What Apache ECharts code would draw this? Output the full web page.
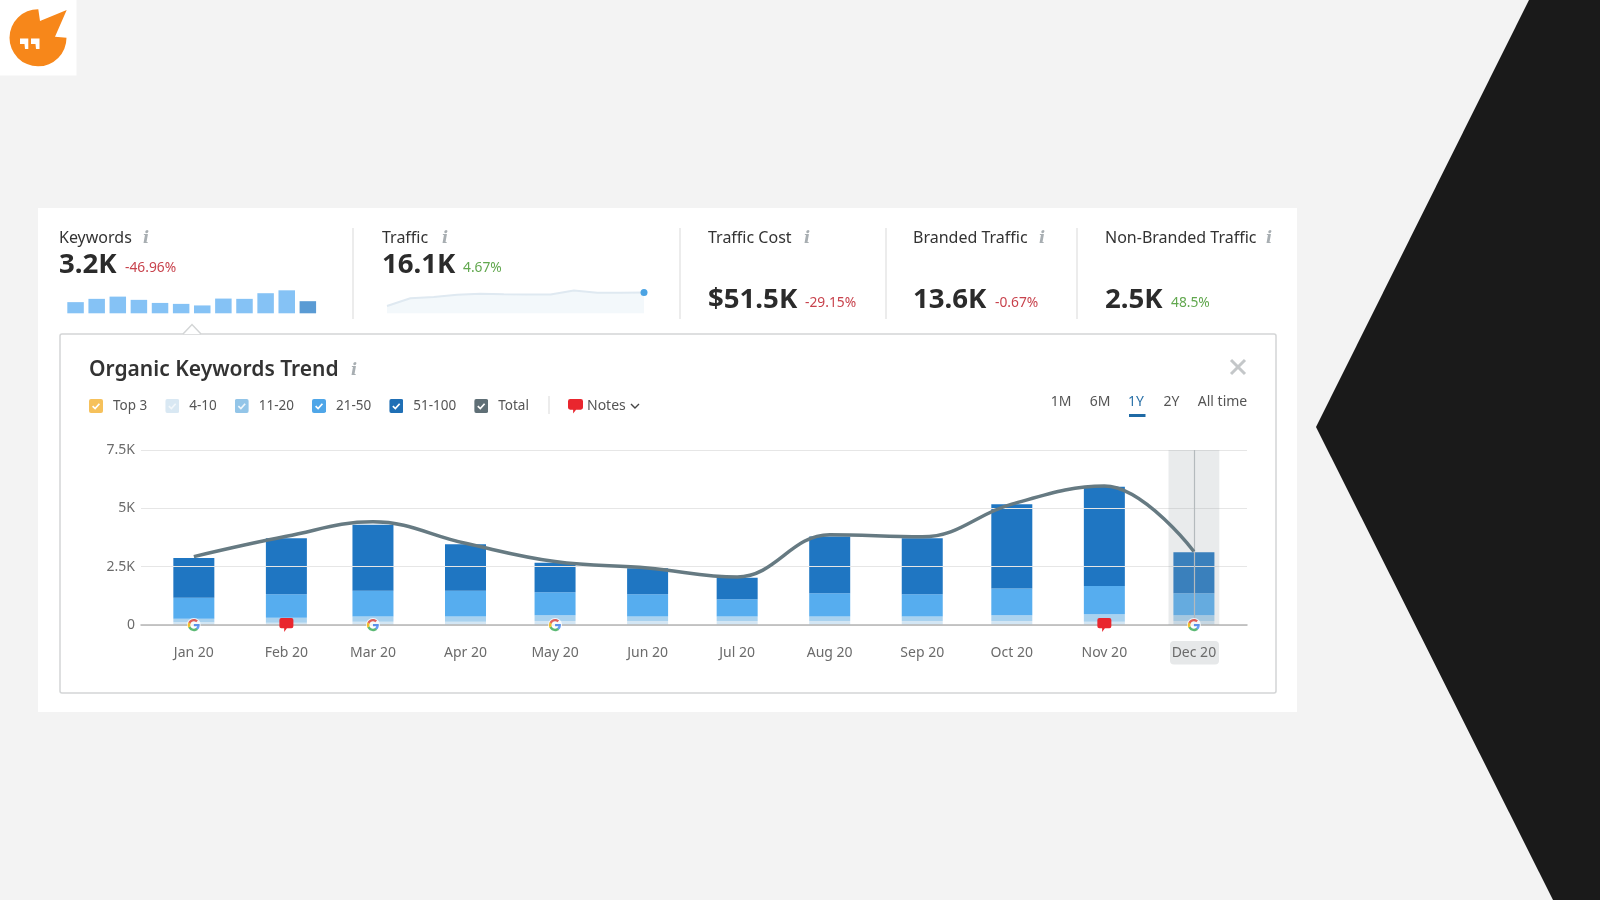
<!DOCTYPE html>
<html><head><meta charset="utf-8">
<style>html,body{margin:0;padding:0;background:#f3f3f3}#c{width:1600px;height:900px}</style>
<script src="https://cdn.jsdelivr.net/npm/echarts@6/dist/echarts.min.js"></script>
</head><body><div id="c"></div>
<script>
const months=['2020-01-01','2020-02-01','2020-03-01','2020-04-01','2020-05-01','2020-06-01','2020-07-01','2020-08-01','2020-09-01','2020-10-01','2020-11-01','2020-12-01'];
const monthLabels=['Jan 20','Feb 20','Mar 20','Apr 20','May 20','Jun 20','Jul 20','Aug 20','Sep 20','Oct 20','Nov 20','Dec 20'];
const top3=[20,20,20,20,20,20,20,20,20,20,20,20];
const pos4to10=[95,80,124,124,152,152,152,152,152,152,124,152];
const pos11to20=[158,216,215,215,245,187,187,187,187,245,316,245];
const pos21to50=[891,1006,1107,1107,991,963,747,1006,963,1149,1207,948];
const pos51to100=[1710,2399,2830,1997,1264,1106,920,2428,2399,3606,4253,1753];
const total=[2930,3800,4420,3500,2720,2440,2060,3870,3780,5180,5960,3150];
const yTicks={0:'0',2500:'2.5K',5000:'5K',7500:'7.5K'};
const googleMonths=['2020-01-01','2020-03-01','2020-05-01','2020-12-01'];
const noteMonths=['2020-02-01','2020-11-01'];
const sparkKeywords=[2874,3721,4296,3463,2672,2428,2026,3793,3721,5172,5920,3118];
const sparkTraffic=[5.7,11.7,12.7,14.3,15.1,14.8,14.6,14.6,17.7,15.9,15.9,16.1];
// the time axis widens its range by half a bar on each side, so its min/max sit inside the drawn span
const axisStart='2019-12-21T04:00:00Z', axisEnd='2020-12-11T22:00:00Z';
const labelAxisStart='2019-12-14T07:00:00Z', labelAxisEnd='2020-12-18T19:00:00Z';
const bandStart='2020-11-22T12:00:00Z', bandEnd='2020-12-09T12:00:00Z', bandCenter='2020-12-01';
const metrics=[
 {t:'Keywords',i:146,v:'3.2K',d:'-46.96%',x:59,dx:125,vy:265.5,dy:268,c:'#c8434d'},
 {t:'Traffic',i:445,v:'16.1K',d:'4.67%',x:382,dx:463,vy:265.5,dy:268,c:'#62a84f'},
 {t:'Traffic Cost',i:807,v:'$51.5K',d:'-29.15%',x:708,dx:805,vy:300.5,dy:303,c:'#c8434d'},
 {t:'Branded Traffic',i:1042,v:'13.6K',d:'-0.67%',x:913,dx:995,vy:300.5,dy:303,c:'#c8434d'},
 {t:'Non-Branded Traffic',i:1269,v:'2.5K',d:'48.5%',x:1105,dx:1171,vy:300.5,dy:303,c:'#62a84f'}];
const ranges=[['1M',1061],['6M',1100],['1Y',1136],['2Y',1171.5],['All time',1222.5]];

const FONT='"Noto Sans"';
const ts=s=>Date.parse(s);
const dataUrl=s=>'data:image/svg+xml;charset=utf-8,'+encodeURIComponent(s);
const svgUrl=s=>'image://'+dataUrl(s);
const check=(c,tick)=>svgUrl(`<svg xmlns="http://www.w3.org/2000/svg" width="28" height="28" viewBox="0 0 14 14"><rect width="14" height="14" rx="2" fill="${c}"/><path d="M3.6 7.2 6.1 9.6 10.4 4.8" fill="none" stroke="${tick}" stroke-width="1.7"/></svg>`);
const gIcon=svgUrl(`<svg xmlns="http://www.w3.org/2000/svg" width="48" height="48" viewBox="0 0 48 48"><circle cx="24" cy="24" r="24" fill="#fff"/><path fill="#4285F4" d="M44 24.5c0-1.4-.1-2.8-.4-4H24v7.8h11.3c-.5 2.6-2 4.8-4.2 6.3v5.2h6.8C41.7 36.3 44 30.9 44 24.5z"/><path fill="#34A853" d="M24 45c5.7 0 10.4-1.9 13.900-5.100l-6.800-5.200c-1.900 1.300-4.300 2-7.100 2-5.500 0-10.100-3.700-11.800-8.600H5.200v5.400C8.700 40.300 15.800 45 24 45z"/><path fill="#FBBC05" d="M12.200 28.100c-.9-2.600-.9-5.500 0-8.100v-5.400h-7c-3 5.900-3 12.900 0 18.900z"/><path fill="#EA4335" d="M24 11.300c3.100 0 5.800 1.100 8 3.100l6-6C34.400 5 29.600 3 24 3 15.800 3 8.700 7.700 5.200 14.600l7 5.400c1.700-5 6.300-8.700 11.800-8.700z"/></svg>`);
const bubblePath='M2 0H12Q14 0 14 2V8Q14 10 12 10H7.500L4.800 13.500 4.800 10H2Q0 10 0 8V2Q0 0 2 0Z';
const bubble='path://'+bubblePath;
const logoSvg=dataUrl(`<svg xmlns="http://www.w3.org/2000/svg" width="76" height="76" viewBox="0 0 76 76"><path fill="#f7871a" d="M38.3 9.3L40 21L66.700 10L55 36.700L66.500 37.700A28.500 28.500 0 1 1 38.300 9.300Z"/><path fill="#fff" d="M20 38.500h8.300v10.500h-3.300l-.5-5h-4.500zM31 38.500h8.500v10.500h-3.500l-.5-5h-4.500z"/></svg>`);
const bubbleSvg=dataUrl(`<svg xmlns="http://www.w3.org/2000/svg" width="28" height="28" viewBox="0 0 14 14"><path fill="#e9262e" d="${bubblePath}"/></svg>`);

const chart=echarts.init(document.getElementById('c'));
const txt=(text,x,y,size,fill,extra={})=>({type:'text',x,y,silent:true,style:Object.assign({text,fontFamily:FONT,fontSize:size,fill,verticalAlign:'middle',textAlign:'left'},extra)});
const vline=(x,y1,y2,c='#d9d9d9')=>({type:'line',shape:{x1:x,y1,x2:x,y2},style:{stroke:c,lineWidth:1},silent:true});
const infoI=(x,y)=>txt('i',x,y,16,'#a8aeb2',{fontFamily:'"DejaVu Serif"',fontStyle:'italic',fontWeight:'bold',textAlign:'center'});

const elements=[
 {type:'polygon',shape:{points:[[1529,0],[1316,427],[1553,900],[1600,900],[1600,0]]},style:{fill:'#1a1a1a'},silent:true},
 {type:'rect',shape:{x:0,y:0,width:76.5,height:75.5},style:{fill:'#ffffff'},silent:true},
 {type:'image',silent:true,style:{image:logoSvg,x:0,y:0,width:76,height:76}},
 {type:'rect',shape:{x:38,y:208,width:1259,height:504},style:{fill:'#ffffff'},silent:true},
 {type:'rect',shape:{x:60,y:334,width:1216,height:359,r:2},style:{fill:'#ffffff',stroke:'#d3d5d6',lineWidth:1.500},silent:true},
 {type:'polygon',shape:{points:[[183,334],[192,324.500],[201,334]]},style:{fill:'#ffffff'},silent:true},
 {type:'polyline',shape:{points:[[183,334],[192,324.500],[201,334]]},style:{stroke:'#d3d5d6',lineWidth:1.500,fill:null},silent:true},
 vline(353,228,319),vline(680,228,319),vline(886,228,319),vline(1077,228,319),
 txt('Organic Keywords Trend',89,370,21,'#333333',{fontWeight:600}),
 infoI(354,371),
 vline(549,396,414),
 {type:'image',silent:true,style:{image:bubbleSvg,x:568,y:399,width:15,height:15}},
 txt('Notes',587,406,14,'#555555'),
 {type:'polyline',shape:{points:[[631,404],[635,408],[639,404]]},style:{stroke:'#444',lineWidth:1.400,fill:null},silent:true},
 {type:'line',shape:{x1:1231,y1:360,x2:1245,y2:374},style:{stroke:'#c4c7c9',lineWidth:3},silent:true},
 {type:'line',shape:{x1:1245,y1:360,x2:1231,y2:374},style:{stroke:'#c4c7c9',lineWidth:3},silent:true},
 {type:'rect',shape:{x:1129,y:414,width:16.500,height:3},style:{fill:'#1f6aa5'},silent:true},
 {type:'rect',shape:{x:1170,y:641,width:49,height:23.500,r:4},style:{fill:'#e6e8e9'},silent:true}
];
metrics.forEach(m=>{
 elements.push(txt(m.t,m.x,238,16,'#333333'));
 elements.push(infoI(m.i,239));
 elements.push(txt(m.v,m.x,m.vy,27.6,'#2b2b2b',{fontWeight:'bold'}));
 elements.push(txt(m.d,m.dx,m.dy,13.800,m.c));
});
ranges.forEach(r=>elements.push(txt(r[0],r[1],402,14,r[0]==='1Y'?'#2c72a8':'#555555',{textAlign:'center'})));

const barSeries=(name,data,color)=>({name,type:'bar',stack:'k',barWidth:41,z:2,silent:true,itemStyle:{color},
 data:data.map((v,i)=>[ts(months[i]),v])});
const series=[
 barSeries('Top 3',top3,'#d3e6f4'),
 barSeries('4-10',pos4to10,'#d3e6f4'),
 barSeries('11-20',pos11to20,'#a9d2ef'),
 barSeries('21-50',pos21to50,'#56adef'),
 barSeries('51-100',pos51to100,'#1f76c2'),
 {name:'Total',type:'line',z:5,smooth:0.4,symbol:'none',silent:true,
  lineStyle:{color:'#667a82',width:3.5},
  data:total.map((v,i)=>[ts(months[i]),v]),
  markArea:{silent:true,z:4,itemStyle:{color:'rgba(155,164,168,0.22)'},data:[[{coord:[ts(bandStart),7500]},{coord:[ts(bandEnd),0]}]]},
  markLine:{silent:true,z:4,symbol:'none',label:{show:false},lineStyle:{color:'#b4babd',width:1.200,type:'solid'},data:[[{coord:[ts(bandCenter),7500]},{coord:[ts(bandCenter),0]}]]}},
 {name:'google',type:'scatter',z:6,clip:false,silent:true,symbol:gIcon,symbolSize:14,data:googleMonths.map(d=>[ts(d),0])},
 {name:'notes',type:'scatter',z:6,clip:false,silent:true,symbol:bubble,symbolSize:[14,14],itemStyle:{color:'#e9262e',opacity:1},data:noteMonths.map(d=>[ts(d),0])},
 {name:'kw',type:'bar',xAxisIndex:1,yAxisIndex:1,barWidth:16.500,silent:true,
  data:sparkKeywords.map((v,i)=>({value:v,itemStyle:{color:i===11?'#5a9bd4':'#85c2f5'}}))},
 {name:'tr',type:'line',xAxisIndex:2,yAxisIndex:2,silent:true,showSymbol:true,showAllSymbol:true,
  symbol:(v,p)=>p.dataIndex===11?'circle':'none',symbolSize:7,itemStyle:{color:'#4ba3e3'},
  lineStyle:{color:'#dfe9f1',width:2},areaStyle:{color:'#f3f8fb',opacity:1},data:sparkTraffic}
];

chart.setOption({
 animation:false,backgroundColor:'#f3f3f3',
 textStyle:{fontFamily:FONT},
 graphic:{elements},
 legend:{show:true,left:84,top:394,itemWidth:14,itemHeight:14,itemGap:18,selectedMode:false,
  textStyle:{fontFamily:FONT,fontSize:13.5,color:'#555555',padding:[0,0,0,5]},
  data:[{name:'Top 3',icon:check('#f6c15b','#fff')},{name:'4-10',icon:check('#d9e8f3','#f2f7fb')},{name:'11-20',icon:check('#93c5e8','#eef6fc')},{name:'21-50',icon:check('#4fa6e8','#fff')},{name:'51-100',icon:check('#1f6fb5','#fff')},{name:'Total',icon:check('#5f6f76','#fff')}]},
 tooltip:{show:false},
 grid:[{left:141,top:450,width:1106,height:175},{left:65,top:290,width:253.400,height:23.300},{left:387,top:287.500,width:257,height:25.800}],
 xAxis:[
  {type:'time',min:ts(axisStart),max:ts(axisEnd),z:3,
   axisLine:{show:true,lineStyle:{color:'#b5b5b5',width:1.500}},axisTick:{show:false},splitLine:{show:false},axisLabel:{show:false}},
  {type:'category',gridIndex:1,show:false,data:monthLabels},
  {type:'category',gridIndex:2,show:false,boundaryGap:false,data:monthLabels},
  {type:'value',gridIndex:0,position:'bottom',min:ts(labelAxisStart),max:ts(labelAxisEnd),z:3,scale:true,
   axisLine:{show:false},axisTick:{show:false},splitLine:{show:false},
   axisLabel:{show:true,customValues:months.map(ts),margin:21,hideOverlap:false,fontFamily:FONT,fontSize:14,color:'#6b6b6b',
    formatter:v=>monthLabels[months.map(ts).indexOf(+v)]||''}}
 ],
 yAxis:[
  {type:'value',min:0,max:7500,interval:2500,z:3,axisLine:{show:false},axisTick:{show:false},
   splitLine:{show:true,lineStyle:{color:'#e6e6e6',width:1.200}},
   axisLabel:{margin:6,padding:[6,0,0,0],fontFamily:FONT,fontSize:14,color:'#6b6b6b',formatter:v=>yTicks[v]}},
  {type:'value',gridIndex:1,show:false,min:0,max:6000,splitLine:{show:false}},
  {type:'value',gridIndex:2,show:false,min:0,max:20,splitLine:{show:false}}
 ],
 series
});
</script></body></html>
